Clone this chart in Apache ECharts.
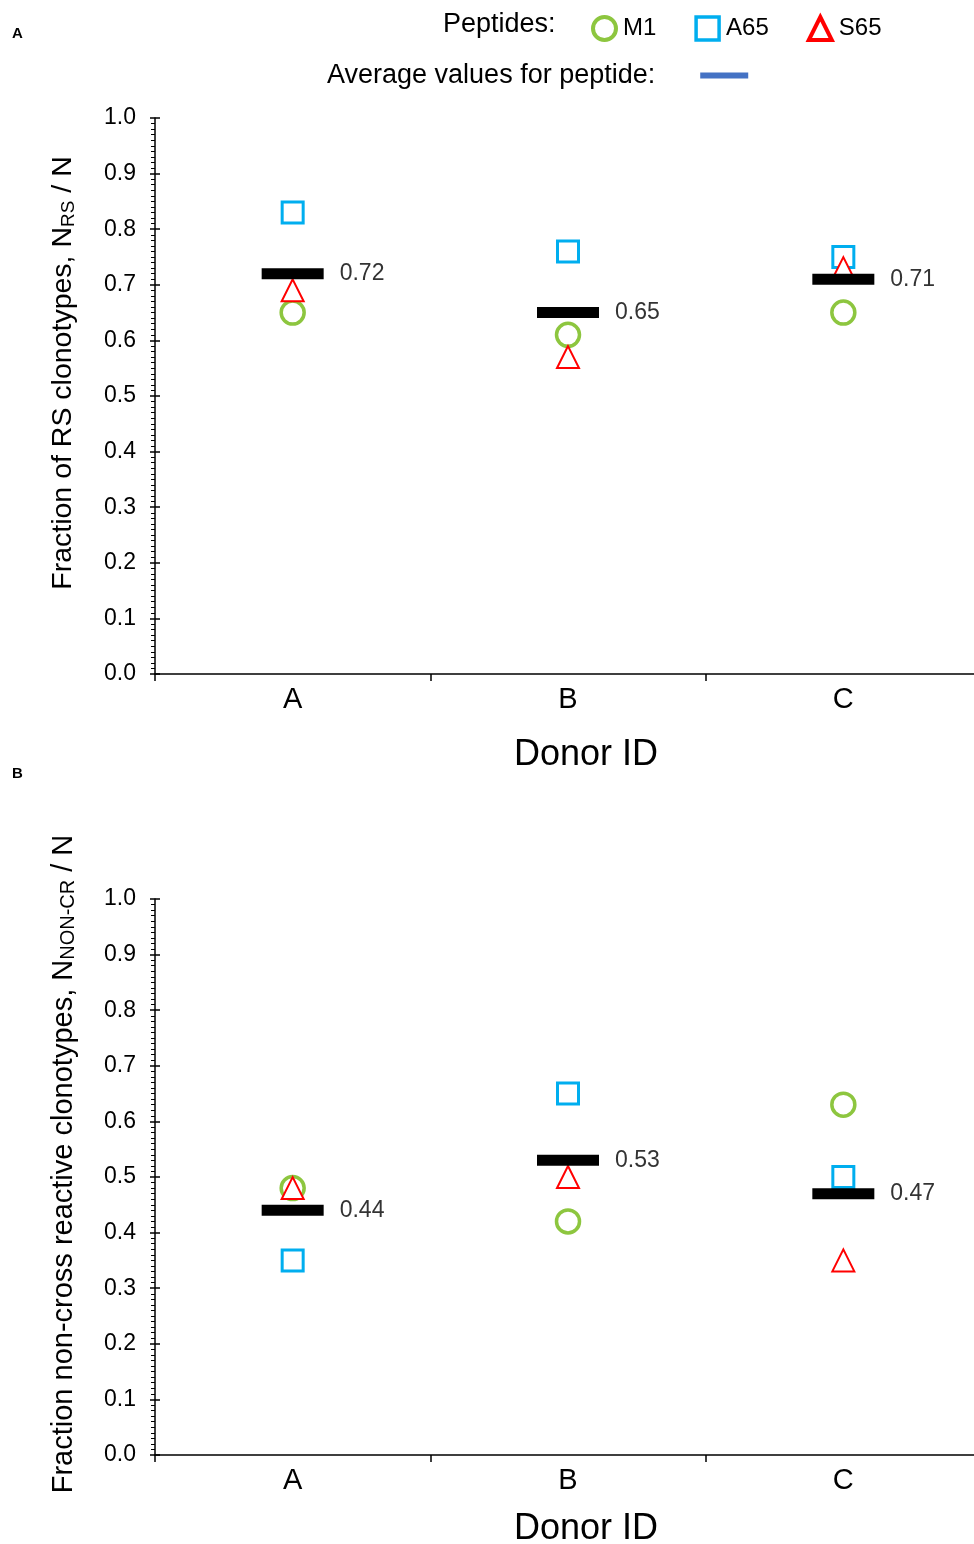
<!DOCTYPE html>
<html>
<head>
<meta charset="utf-8">
<script src="https://cdn.jsdelivr.net/npm/echarts@6/dist/echarts.min.js"></script>
<style>
  html, body { margin: 0; padding: 0; background: #fff; }
  #chart { width: 974px; height: 1544px; }
</style>
</head>
<body>
<div id="chart"></div>
<script>
// donors on the x axis
const donors = ['A', 'B', 'C'];
const yTicks = [0, 0.1, 0.2, 0.3, 0.4, 0.5, 0.6, 0.7, 0.8, 0.9, 1.0];

// panel A: fraction of RS clonotypes
const rsM1 = [0.65, 0.61, 0.65];
const rsA65 = [0.83, 0.76, 0.75];
const rsS65 = [0.69, 0.57, 0.73];
const rsAvg = [0.72, 0.65, 0.71];

// panel B: fraction of non-cross reactive clonotypes
const ncM1 = [0.48, 0.42, 0.63];
const ncA65 = [0.35, 0.65, 0.50];
const ncS65 = [0.48, 0.50, 0.35];
const ncAvg = [0.44, 0.53, 0.47];

const FONT = '"Liberation Sans", Arial, sans-serif';
const peptideStyle = {
  M1: { symbol: 'circle', size: 23, color: '#8DC63F', width: 3.5 },
  A65: { symbol: 'rect', size: 21, color: '#00AEEF', width: 3 },
  S65: { symbol: 'triangle', size: 22, color: '#FF0000', width: 2 }
};
const AVG_NAME = 'Average values for peptide:';

const chart = echarts.init(document.getElementById('chart'));

function grid(top) {
  // the x axis runs a little past the right edge of the picture
  return { left: 155, top: top, width: 826, height: 556, containLabel: false, outerBoundsMode: 'none' };
}

function xAxis(gridIndex, gap) {
  return {
    type: 'category', gridIndex: gridIndex, data: donors,
    name: 'Donor ID', nameLocation: 'middle', nameGap: gap,
    nameTextStyle: { fontFamily: FONT, fontSize: 36, color: '#000', padding: [0, 0, 0, 36] },
    axisLine: { lineStyle: { color: '#000', width: 1.5 } },
    axisTick: { show: true, length: 7, lineStyle: { color: '#000', width: 1.5 } },
    axisLabel: { fontFamily: FONT, fontSize: 29, color: '#000', margin: 11 },
    splitLine: { show: false }
  };
}

function yAxisMain(gridIndex, name, size, shift) {
  return {
    type: 'value', gridIndex: gridIndex, min: 0, max: 1, interval: 0.1,
    name: name, nameLocation: 'middle', nameRotate: 90, nameGap: 77,
    nameTextStyle: {
      fontFamily: FONT, fontSize: size, color: '#000', padding: [0, 0, 0, shift],
      rich: { s: { fontFamily: FONT, fontSize: Math.round(size * 0.68), color: '#000', verticalAlign: 'bottom' } }
    },
    axisLine: { show: true, lineStyle: { color: '#000', width: 1.5 } },
    axisTick: { show: true, length: 5, lineStyle: { color: '#000', width: 1.5 } },
    minorTick: { show: true, splitNumber: 10, length: 4, lineStyle: { color: '#000', width: 1 } },
    axisLabel: {
      fontFamily: FONT, fontSize: 23, color: '#000', margin: 19,
      formatter: v => (yTicks.indexOf(Math.round(v * 10) / 10) >= 0 ? v.toFixed(1) : '')
    },
    splitLine: { show: false }
  };
}

// same axis again, used only for the inner half of the major ticks
function yAxisInner(gridIndex) {
  return {
    type: 'value', gridIndex: gridIndex, min: 0, max: 1, interval: 0.1, position: 'left',
    axisLine: { show: false },
    axisTick: { show: true, inside: true, length: 5, lineStyle: { color: '#000', width: 1.5 } },
    axisLabel: { show: false },
    splitLine: { show: false }
  };
}

function peptideSeries(name, values, xi, yi) {
  const st = peptideStyle[name];
  return {
    name: name, type: 'scatter', xAxisIndex: xi, yAxisIndex: yi,
    symbol: st.symbol, symbolSize: st.size,
    itemStyle: { color: '#fff', borderColor: st.color, borderWidth: st.width, opacity: 1 },
    emphasis: { disabled: true },
    data: values
  };
}

function avgSeries(values, xi, yi) {
  return {
    name: AVG_NAME, type: 'scatter', xAxisIndex: xi, yAxisIndex: yi,
    symbol: 'rect', symbolSize: [62, 11],
    itemStyle: { color: '#000', opacity: 1 },
    emphasis: { disabled: true },
    label: {
      show: true, position: 'right', distance: 16,
      fontFamily: FONT, fontSize: 23, color: '#333',
      formatter: p => p.value.toFixed(2)
    },
    z: 5,
    data: values
  };
}

chart.setOption({
  animation: false,
  backgroundColor: '#fff',
  grid: [grid(118), grid(899)],
  xAxis: [xAxis(0, 63), xAxis(1, 56)],
  yAxis: [
    yAxisMain(0, 'Fraction of RS clonotypes, N{s|RS} / N', 28.5, 46),
    yAxisInner(0),
    yAxisMain(1, 'Fraction non-cross reactive clonotypes, N{s|NON-CR} / N', 29, 26),
    yAxisInner(1)
  ],
  legend: [
    {
      data: [
        { name: 'M1', itemStyle: { borderWidth: 4 } },
        { name: 'A65', itemStyle: { borderWidth: 3.5 } },
        { name: 'S65', itemStyle: { borderWidth: 4 } }
      ],
      left: 586, top: 10,
      itemWidth: 23, itemHeight: 23, itemGap: 38,
      textStyle: { fontFamily: FONT, fontSize: 24, color: '#000', padding: [0, 0, 0, 2] },
      selectedMode: false
    },
    {
      data: [{ name: AVG_NAME, icon: 'rect', itemStyle: { color: '#4472C4', borderWidth: 0, opacity: 1 } }],
      left: 322, top: 57,
      align: 'right',
      itemWidth: 48, itemHeight: 6,
      textStyle: { fontFamily: FONT, fontSize: 27, color: '#000', padding: [0, 40, 0, 0] },
      selectedMode: false
    }
  ],
  graphic: [
    { type: 'text', left: 443, top: 11, style: { text: 'Peptides:', font: '27px ' + FONT, fill: '#000' } },
    { type: 'text', left: 12, top: 26, style: { text: 'A', font: 'bold 15px ' + FONT, fill: '#000' } },
    { type: 'text', left: 12, top: 766, style: { text: 'B', font: 'bold 15px ' + FONT, fill: '#000' } }
  ],
  series: [
    peptideSeries('M1', rsM1, 0, 0),
    peptideSeries('A65', rsA65, 0, 0),
    peptideSeries('S65', rsS65, 0, 0),
    avgSeries(rsAvg, 0, 0),
    peptideSeries('M1', ncM1, 1, 2),
    peptideSeries('A65', ncA65, 1, 2),
    peptideSeries('S65', ncS65, 1, 2),
    avgSeries(ncAvg, 1, 2)
  ]
});
</script>
</body>
</html>
